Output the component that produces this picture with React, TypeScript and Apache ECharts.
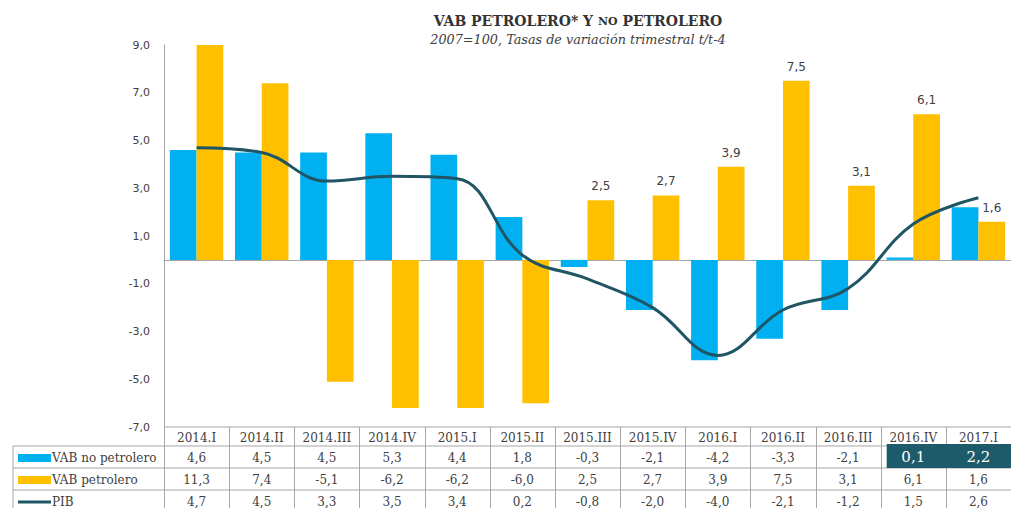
import React, { useEffect, useRef } from "react";
import * as echarts from "echarts";

const categories = ["2014.I", "2014.II", "2014.III", "2014.IV", "2015.I", "2015.II", "2015.III", "2015.IV", "2016.I", "2016.II", "2016.III", "2016.IV", "2017.I"];
const vabNoPetrolero = [4.6, 4.5, 4.5, 5.3, 4.4, 1.8, -0.3, -2.1, -4.2, -3.3, -2.1, 0.1, 2.2];
const vabPetrolero = [11.3, 7.4, -5.1, -6.2, -6.2, -6.0, 2.5, 2.7, 3.9, 7.5, 3.1, 6.1, 1.6];
const pib = [4.7, 4.5, 3.3, 3.5, 3.4, 0.2, -0.8, -2.0, -4.0, -2.1, -1.2, 1.5, 2.6];
const labeledPetroleroIdx = [6, 7, 8, 9, 10, 11, 12];
const highlightedNoPetroleroIdx = [11, 12];
const seriesNames = ["VAB no petrolero", "VAB petrolero", "PIB"];
const subtitle = "2007=100, Tasas de variación trimestral t/t-4";

const W = 1011;
const H = 508;
const GRID_LEFT = 164;
const GRID_TOP = 45;
const GRID_BOTTOM_Y = 427;
const BLUE = "#00B0F0";
const ORANGE = "#FFC000";
const TEAL = "#1F5564";
const BORDER = "#A6A6A6";
const TXT = "#404040";
const SERIF = "'DejaVu Serif', serif";
const SANS = "'DejaVu Sans', sans-serif";

const fmt = (v: number) => v.toFixed(1).replace(".", ",");

function buildTable(): any[] {
  const els: any[] = [];
  const n = categories.length;
  const cw = (W - GRID_LEFT) / n;
  const rowTops = [GRID_BOTTOM_Y, 446, 468, 490, 512];
  const leftX = 13;
  els.push({ type: "line", shape: { x1: GRID_LEFT, y1: rowTops[0], x2: W, y2: rowTops[0] }, style: { stroke: BORDER, lineWidth: 1 } });
  for (let r = 1; r < 4; r++) {
    els.push({ type: "line", shape: { x1: leftX, y1: rowTops[r], x2: W, y2: rowTops[r] }, style: { stroke: BORDER, lineWidth: 1 } });
  }
  els.push({ type: "line", shape: { x1: leftX, y1: rowTops[1], x2: leftX, y2: H }, style: { stroke: BORDER, lineWidth: 1 } });
  for (let k = 0; k <= n; k++) {
    const x = Math.round(GRID_LEFT + k * cw) + 0.5;
    els.push({ type: "line", shape: { x1: x, y1: rowTops[0], x2: x, y2: H }, style: { stroke: BORDER, lineWidth: 1 } });
  }
  categories.forEach((c, i) => {
    els.push({ type: "text", x: GRID_LEFT + (i + 0.5) * cw, y: (rowTops[0] + rowTops[1]) / 2 + 1, style: { text: c, font: `12px ${SERIF}`, fill: TXT, align: "center", verticalAlign: "middle" } });
  });
  const rows = [vabNoPetrolero, vabPetrolero, pib];
  rows.forEach((vals, r) => {
    const cy = (rowTops[r + 1] + rowTops[r + 2]) / 2 + 1;
    if (r < 2) {
      els.push({ type: "rect", shape: { x: 18, y: cy - 4, width: 33, height: 8 }, style: { fill: r === 0 ? BLUE : ORANGE } });
    } else {
      els.push({ type: "line", shape: { x1: 18, y1: cy, x2: 51, y2: cy }, style: { stroke: TEAL, lineWidth: 3 } });
    }
    els.push({ type: "text", x: 52, y: cy, style: { text: seriesNames[r], font: `12px ${SERIF}`, fill: TXT, align: "left", verticalAlign: "middle" } });
    vals.forEach((v, i) => {
      const hl = r === 0 && highlightedNoPetroleroIdx.includes(i);
      els.push({ type: "text", x: GRID_LEFT + (i + 0.5) * cw, y: cy + (hl ? -1 : 0), z: 10, style: { text: fmt(v), font: hl ? `15px ${SERIF}` : `12px ${SERIF}`, fill: hl ? "#FFFFFF" : TXT, align: "center", verticalAlign: "middle" } });
    });
  });
  const hs = Math.min(...highlightedNoPetroleroIdx);
  const he = Math.max(...highlightedNoPetroleroIdx);
  const hx = GRID_LEFT + hs * cw + 6;
  els.push({ type: "rect", z: 5, shape: { x: hx, y: 444, width: GRID_LEFT + (he + 1) * cw - hx, height: 24 }, style: { fill: "#1D5B6B" } });
  return els;
}

export default function App() {
  const ref = useRef<HTMLDivElement>(null);
  useEffect(() => {
    if (!ref.current) return;
    const chart = echarts.init(ref.current, null, { renderer: "svg" });
    chart.setOption({
      animation: false,
      backgroundColor: "#FFFFFF",
      title: {
        text: "{a|VAB PETROLERO* Y }{b|NO}{a| PETROLERO}",
        subtext: subtitle,
        left: 573,
        textAlign: "center",
        top: 9,
        itemGap: 5,
        textStyle: {
          rich: {
            a: { fontFamily: SERIF, fontWeight: "bold", fontSize: 14, color: "#333333" },
            b: { fontFamily: SERIF, fontWeight: "bold", fontSize: 11, color: "#333333" },
          },
        },
        subtextStyle: { fontFamily: SERIF, fontStyle: "italic", fontSize: 12.8, color: "#404040" },
      },
      grid: { left: GRID_LEFT, right: 0, top: GRID_TOP, bottom: H - GRID_BOTTOM_Y, containLabel: false },
      xAxis: {
        type: "category",
        data: categories,
        axisLine: { onZero: true, lineStyle: { color: BORDER, width: 1 } },
        axisTick: { show: false },
        axisLabel: { show: false },
        splitLine: { show: false },
      },
      yAxis: {
        type: "value",
        min: -7,
        max: 9,
        interval: 1,
        axisLine: { show: true, lineStyle: { color: BORDER, width: 1 } },
        axisTick: { show: false },
        splitLine: { show: false },
        axisLabel: {
          margin: 14,
          fontFamily: SANS,
          fontSize: 11,
          color: TXT,
          formatter: (v: number) => (Math.abs(Math.round(v)) % 2 === 1 ? fmt(v) : ""),
        },
      },
      series: [
        {
          name: seriesNames[0],
          type: "bar",
          data: vabNoPetrolero,
          itemStyle: { color: BLUE },
          barGap: "0%",
          barCategoryGap: "18%",
          clip: true,
        },
        {
          name: seriesNames[1],
          type: "bar",
          data: vabPetrolero.map((v, i) => ({
            value: v,
            label: labeledPetroleroIdx.includes(i)
              ? { show: true, position: "top", distance: 8, formatter: fmt(v), fontFamily: SANS, fontSize: 12, color: TXT }
              : { show: false },
          })),
          itemStyle: { color: ORANGE },
          barGap: "0%",
          barCategoryGap: "18%",
          clip: true,
        },
        {
          name: seriesNames[2],
          type: "line",
          data: pib,
          smooth: 0.4,
          symbol: "none",
          lineStyle: { color: TEAL, width: 3 },
          z: 5,
        },
      ],
      graphic: buildTable(),
    });
    return () => chart.dispose();
  }, []);
  return <div ref={ref} style={{ position: "absolute", left: 0, top: 0, width: W, height: H }} />;
}
